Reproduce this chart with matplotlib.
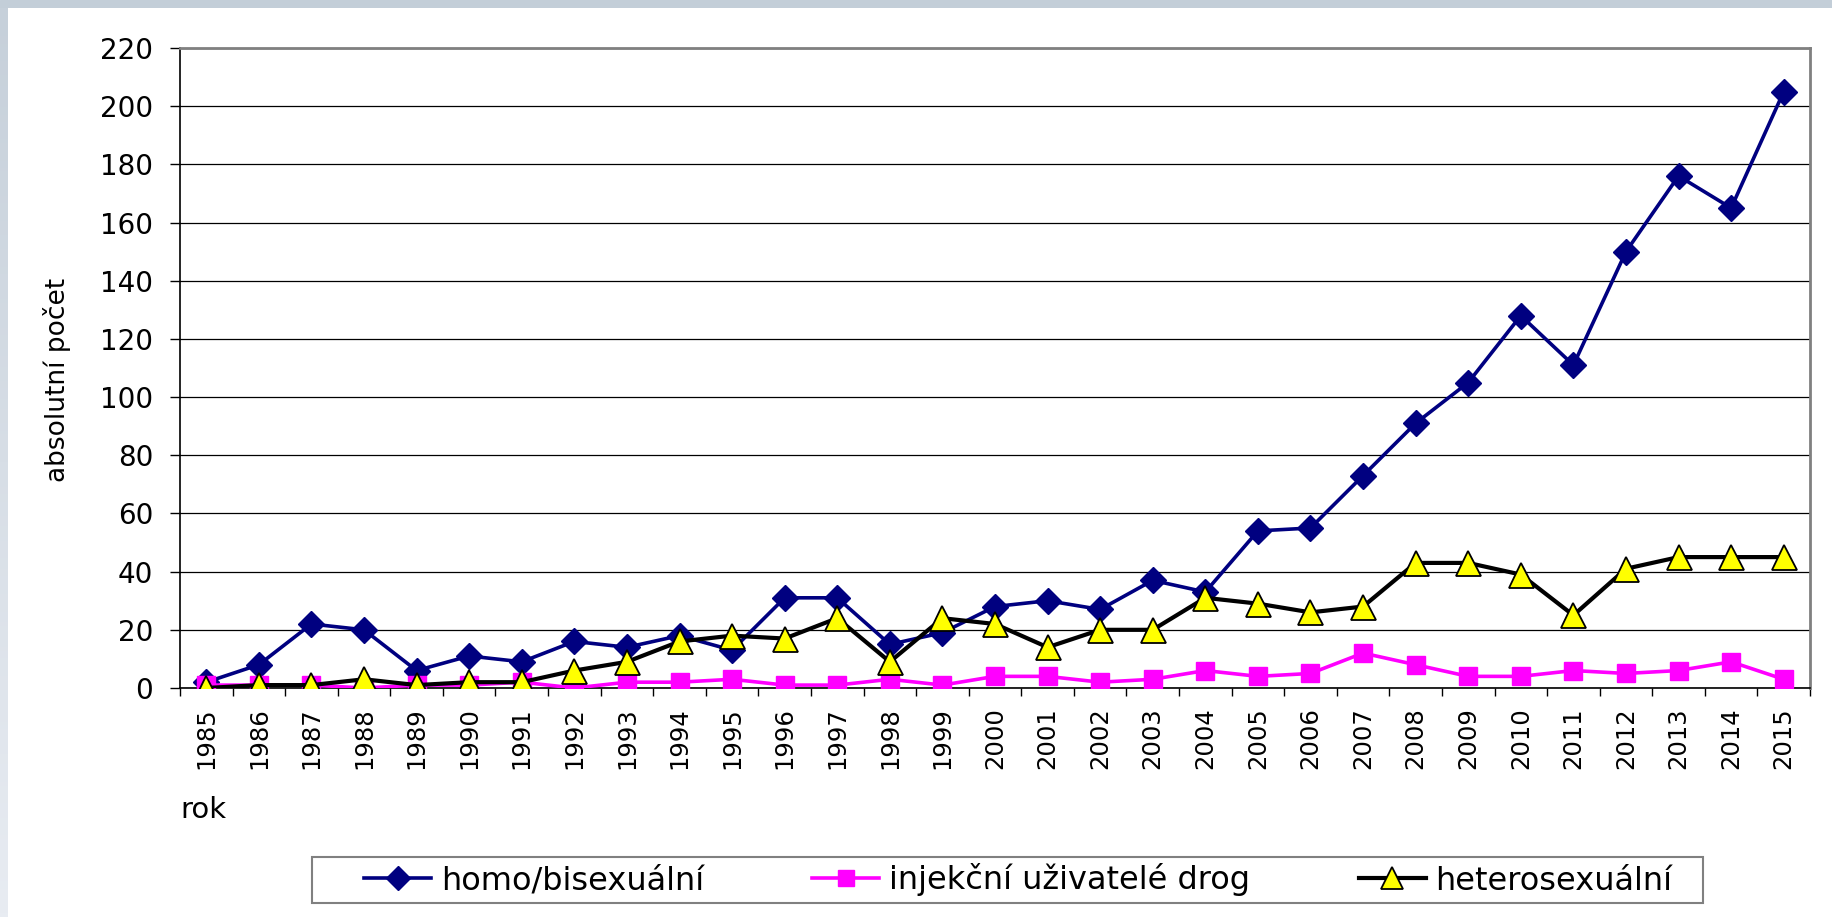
import matplotlib
matplotlib.use("Agg")
import matplotlib.pyplot as plt
import numpy as np
from matplotlib.patches import Rectangle
from matplotlib.colors import LinearSegmentedColormap

years = list(range(1985, 2016))
homo_bi = [2, 8, 22, 20, 6, 11, 9, 16, 14, 18, 13, 31, 31, 15, 19, 28, 30, 27, 37, 33,
           54, 55, 73, 91, 105, 128, 111, 150, 176, 165, 205]
injekcni = [1, 1, 1, 0, 1, 1, 2, 0, 2, 2, 3, 1, 1, 3, 1, 4, 4, 2, 3, 6,
            4, 5, 12, 8, 4, 4, 6, 5, 6, 9, 3]
hetero = [0, 1, 1, 3, 1, 2, 2, 6, 9, 16, 18, 17, 24, 9, 24, 22, 14, 20, 20, 31,
          29, 26, 28, 43, 43, 39, 25, 41, 45, 45, 45]
series_names = ["homo/bisexuální", "injekční uživatelé drog", "heterosexuální"]
y_ticks = list(range(0, 221, 20))
y_label = "absolutní počet"
x_label = "rok"

W, H = 1832, 917
fig = plt.figure(figsize=(W / 100, H / 100), dpi=100)
fig.patch.set_facecolor("white")

# light frame bands (top and left)
band_top = fig.add_axes([0, 1 - 8 / H, 1, 8 / H])
band_top.set_axis_off()
band_top.add_patch(Rectangle((0, 0), 1, 1, transform=band_top.transAxes, color="#c3ced8"))
band_left = fig.add_axes([0, 0, 8 / W, 1 - 8 / H])
grad = np.linspace(0, 1, 256).reshape(-1, 1)
cm = LinearSegmentedColormap.from_list("b", ["#c6d0da", "#e8ecf2"])
band_left.imshow(grad, aspect="auto", cmap=cm, extent=[0, 1, 0, 1])
band_left.set_axis_off()

l, r, t, b = 180, 1810, 48, 688
ax = fig.add_axes([l / W, 1 - b / H, (r - l) / W, (b - t) / H])
x = np.arange(len(years))

ax.plot(x, homo_bi, color="#000080", lw=2.6, marker="D", markersize=13.5,
        markerfacecolor="#000080", markeredgecolor="#000080", label=series_names[0], zorder=3)
ax.plot(x, injekcni, color="#ff00ff", lw=2.6, marker="s", markersize=13,
        markerfacecolor="#ff00ff", markeredgecolor="#ff00ff", label=series_names[1], zorder=4)
ax.plot(x, hetero, color="#000000", lw=3.0, marker="^", markersize=18,
        markerfacecolor="#ffff00", markeredgecolor="#000000", markeredgewidth=1.3,
        label=series_names[2], zorder=5)

ax.set_xlim(-0.5, len(years) - 0.5)
ax.set_ylim(0, 220)
ax.set_yticks(y_ticks)
ax.set_yticklabels([str(v) for v in y_ticks], fontsize=20)
ax.yaxis.grid(True, color="#000000", lw=0.9)
ax.set_axisbelow(True)
ax.tick_params(axis="y", direction="out", length=7.2, width=1, pad=12, color="#000000")

ax.set_xticks(x)
ax.set_xticklabels([str(y) for y in years], rotation=90, fontsize=17.5)
ax.tick_params(axis="x", which="major", length=0, pad=14)
ax.set_xticks(np.arange(-0.5, len(years) + 0.5, 1), minor=True)
ax.tick_params(axis="x", which="minor", direction="out", length=5.5, width=1, color="#000000")

for s in ["left", "bottom"]:
    ax.spines[s].set_color("#000000")
    ax.spines[s].set_linewidth(1.2)
for s in ["top", "right"]:
    ax.spines[s].set_color("#808080")
    ax.spines[s].set_linewidth(2)

fig.text(57 / W, 1 - 380 / H, y_label, rotation=90, fontsize=19, ha="center", va="center")
fig.text(180 / W, 1 - 818 / H, x_label, fontsize=21, ha="left", va="baseline")

# legend
handles, labels = ax.get_legend_handles_labels()
leg = fig.legend(handles, labels, loc="center left", bbox_to_anchor=(364 / W, 1 - 880 / H),
                 ncol=3, frameon=False, fontsize=23, handlelength=2.1, handletextpad=0.3,
                 columnspacing=3.4, borderpad=0, borderaxespad=0, markerscale=0.9)
fig.patches.append(Rectangle((312 / W, 1 - 903 / H), (1703 - 312) / W, 46 / H,
                             transform=fig.transFigure, facecolor="none",
                             edgecolor="#808080", lw=1.5, zorder=0))

fig.savefig("out.png", dpi=100)
